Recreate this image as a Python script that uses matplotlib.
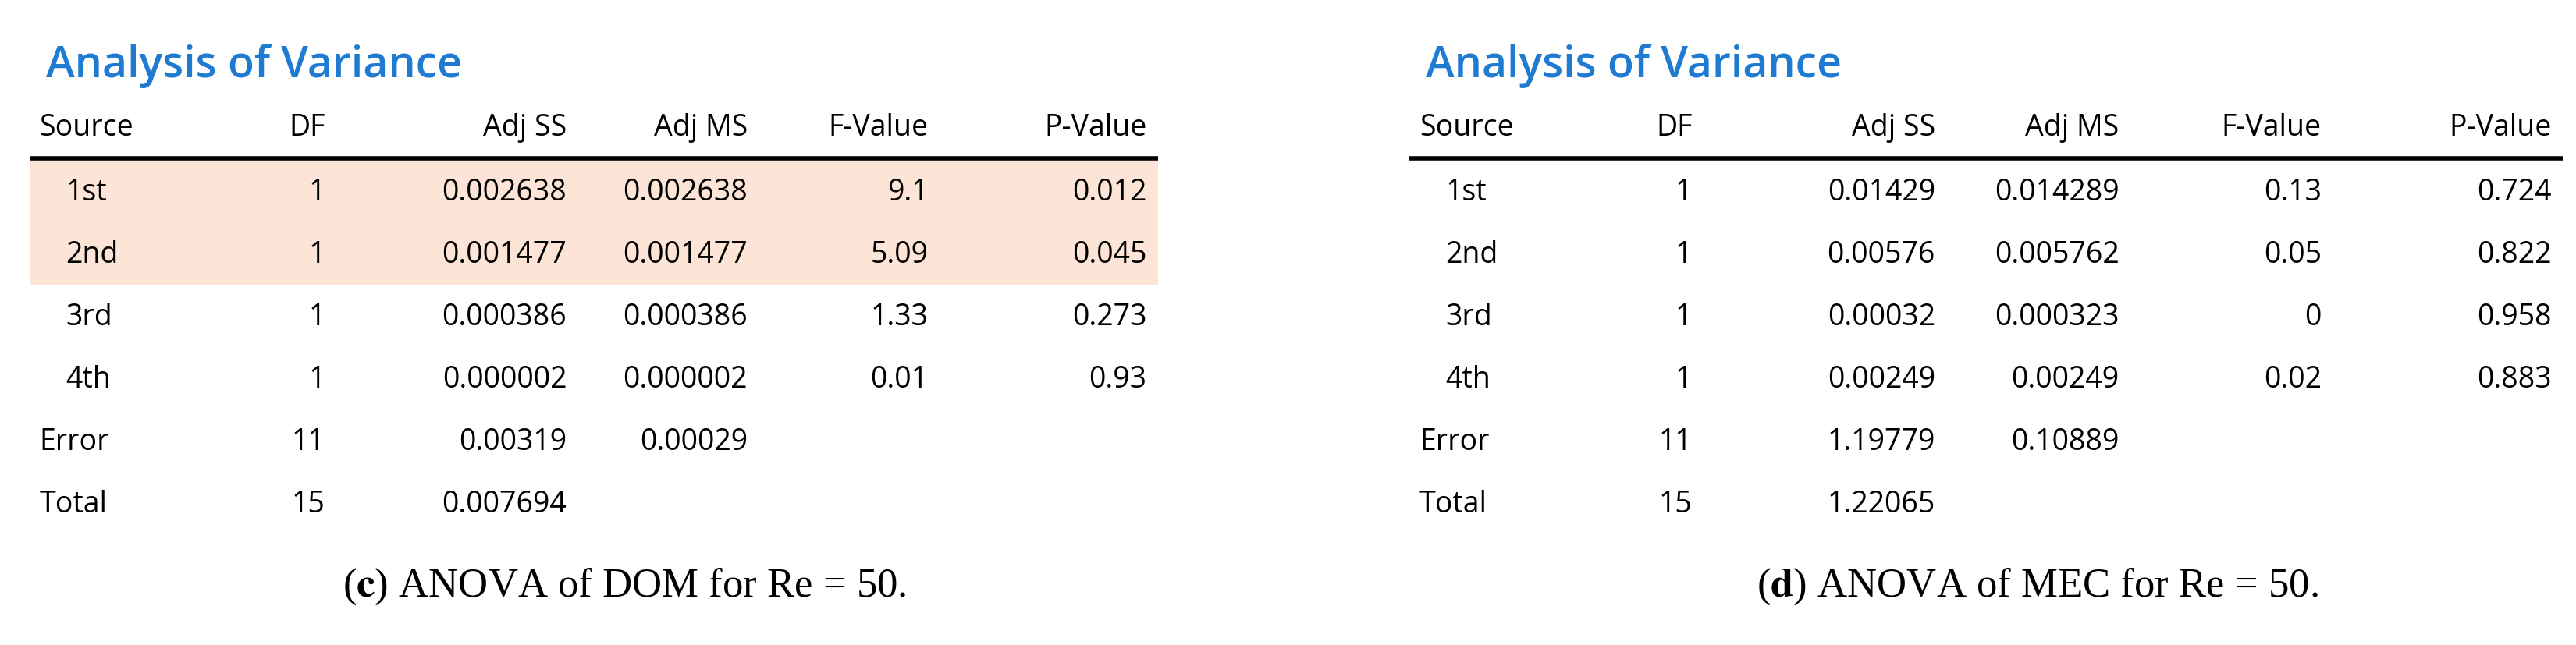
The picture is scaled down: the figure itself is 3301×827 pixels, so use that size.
import matplotlib
matplotlib.use("Agg")
import matplotlib.pyplot as plt
from matplotlib.patches import Rectangle

plt.rcParams["mathtext.fontset"] = "stix"

headers = ["Source", "DF", "Adj SS", "Adj MS", "F-Value", "P-Value"]
sources = ["1st", "2nd", "3rd", "4th", "Error", "Total"]
df_vals = ["1", "1", "1", "1", "11", "15"]

c_adjss = ["0.002638", "0.001477", "0.000386", "0.000002", "0.00319", "0.007694"]
c_adjms = ["0.002638", "0.001477", "0.000386", "0.000002", "0.00029", ""]
c_f = ["9.1", "5.09", "1.33", "0.01", "", ""]
c_p = ["0.012", "0.045", "0.273", "0.93", "", ""]
c_highlight = [0, 1]

d_adjss = ["0.01429", "0.00576", "0.00032", "0.00249", "1.19779", "1.22065"]
d_adjms = ["0.014289", "0.005762", "0.000323", "0.00249", "0.10889", ""]
d_f = ["0.13", "0.05", "0", "0.02", "", ""]
d_p = ["0.724", "0.822", "0.958", "0.883", "", ""]
d_highlight = []

fig = plt.figure(figsize=(33.01, 8.28), dpi=100)
ax = fig.add_axes([0, 0, 1, 1])
ax.set_xlim(0, 1568)
ax.set_ylim(393, 0)
ax.axis("off")

FONT = "Open Sans"
FS = 27

def panel(x0, cols_right, adjss, adjms, fv, pv, hl, letter, name, cap_x):
    ax.text(x0 + 10, 40, "Analysis of Variance", fontsize=40, color="#1f7ad1",
            fontweight="semibold", family=FONT, va="center", ha="left")
    hy = 78
    ax.text(x0 + 6, hy, headers[0], fontsize=FS, family=FONT, va="center", ha="left")
    for h, xr in zip(headers[1:], cols_right):
        ax.text(xr, hy, h, fontsize=FS, family=FONT, va="center", ha="right")
    right = cols_right[-1] + 7
    ax.plot([x0, right], [97, 97], color="black", lw=4, solid_capstyle="butt")
    row_h = 38
    for i in range(len(sources)):
        y = 117 + i * row_h
        if i in hl:
            ax.add_patch(Rectangle((x0, y - row_h / 2), right - x0, row_h,
                                   facecolor="#fce4d6", edgecolor="none", zorder=0))
        indent = 22 if i < 4 else 6
        ax.text(x0 + indent, y, sources[i], fontsize=FS, family=FONT, va="center", ha="left")
        vals = [df_vals[i], adjss[i], adjms[i], fv[i], pv[i]]
        for v, xr in zip(vals, cols_right):
            ax.text(xr, y, v, fontsize=FS, family=FONT, va="center", ha="right")
    ax.text(cap_x, 357, r"($\mathbf{%s}$) ANOVA of %s for Re = 50." % (letter, name),
            fontsize=38, family="Liberation Serif", va="center", ha="center")

panel(18, [198, 345, 455, 565, 698], c_adjss, c_adjms, c_f, c_p, c_highlight, "c", "DOM", 380)
panel(858, [1030, 1178, 1290, 1413, 1553], d_adjss, d_adjms, d_f, d_p, d_highlight, "d", "MEC", 1240)

fig.savefig("out.png", dpi=100)
